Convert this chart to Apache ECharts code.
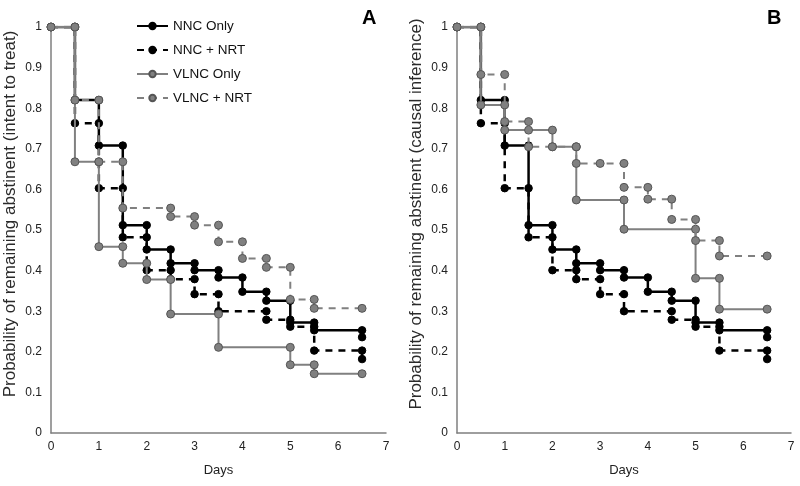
<!DOCTYPE html>
<html><head><meta charset="utf-8">
<script src="https://cdn.jsdelivr.net/npm/echarts@6/dist/echarts.min.js"></script>
<style>html,body{margin:0;padding:0;background:#fff}#c{width:800px;height:486px}</style>
</head><body><div id="c"></div>
<script>
// Tick settings
const xMin = 0, xMax = 7, xStep = 1;
const yMin = 0, yMax = 1, yStep = 0.1;
const seriesNames = ['NNC Only', 'NNC + NRT', 'VLNC Only', 'VLNC + NRT'];
const panelLabels = ['A', 'B'];
const yTitles = ['Probability of remaining abstinent (intent to treat)', 'Probability of remaining abstinent (causal inference)'];
const xTitle = 'Days';

// Step data: [time, level held from that time on]
const nncOnly = [[0,1],[0.5,0.82],[1,0.708],[1.5,0.512],[2,0.452],[2.5,0.418],[3,0.401],[3.5,0.383],[4,0.348],[4.5,0.326],[5,0.272],[5.5,0.253],[6.5,0.236]];
const nncNrt = [[0,1],[0.5,0.763],[1,0.603],[1.5,0.482],[2,0.401],[2.5,0.379],[3,0.342],[3.5,0.30],[4.5,0.279],[5,0.262],[5.5,0.203],[6.5,0.182]];
const vlncOnlyA = [[0,1],[0.5,0.668],[1,0.459],[1.5,0.418],[2,0.378],[2.5,0.293],[3.5,0.211],[5,0.168],[5.5,0.146],[6.5,0.146]];
const vlncNrtA = [[0,1],[0.5,0.82],[1,0.668],[1.5,0.554],[2.5,0.533],[3,0.512],[3.5,0.471],[4,0.43],[4.5,0.408],[5,0.329],[5.5,0.307],[6.5,0.307]];
const vlncOnlyB = [[0,1],[0.5,0.808],[1,0.746],[1.5,0.746],[2,0.705],[2.5,0.574],[3.5,0.502],[5,0.381],[5.5,0.305],[6.5,0.305]];
const vlncNrtB = [[0,1],[0.5,0.883],[1,0.767],[1.5,0.705],[2,0.705],[2.5,0.664],[3,0.664],[3.5,0.605],[4,0.576],[4.5,0.526],[5,0.474],[5.5,0.436],[6.5,0.436]];

function steps(d) {
  const pts = [];
  const push = p => { const l = pts[pts.length-1]; if (!l || l[0] !== p[0] || l[1] !== p[1]) pts.push(p); };
  for (let i = 0; i < d.length; i++) {
    push([d[i][0], d[i][1]]);
    if (i < d.length - 1) push([d[i+1][0], d[i][1]]);
  }
  return pts;
}

const FONT = 'Liberation Sans, Arial, sans-serif';
const BLACK = '#000000', GRAY = '#808080', GRAYB = '#555555';
const styles = [
  {color: BLACK, type: 'solid', w: 2.5, size: 7.5, border: BLACK},
  {color: BLACK, type: [7, 6], w: 2.5, size: 7.5, border: BLACK},
  {color: GRAY, type: 'solid', w: 2, size: 8, border: GRAYB},
  {color: GRAY, type: [7, 6], w: 2, size: 8, border: GRAYB}
];
const panelData = [[nncOnly, nncNrt, vlncOnlyA, vlncNrtA], [nncOnly, nncNrt, vlncOnlyB, vlncNrtB]];

const grids = [
  {left: 51, top: 27, width: 335, height: 406},
  {left: 457, top: 27, width: 334, height: 406}
];
const xAxes = grids.map((g, i) => ({
  gridIndex: i, type: 'value', min: xMin, max: xMax, interval: xStep,
  name: xTitle, nameLocation: 'middle', nameGap: 31,
  nameTextStyle: {fontFamily: FONT, fontSize: 13, color: '#222'},
  axisLine: {show: true, onZero: false, lineStyle: {color: '#7f7f7f', width: 1.5}},
  axisTick: {show: false}, splitLine: {show: false},
  axisLabel: {fontFamily: FONT, fontSize: 12, color: '#222', margin: 8}
}));
const yAxes = grids.map((g, i) => ({
  gridIndex: i, type: 'value', min: yMin, max: yMax, interval: yStep,
  name: yTitles[i], nameLocation: 'middle', nameGap: 32, nameRotate: 90,
  nameTextStyle: {fontFamily: FONT, fontSize: 17, color: '#2a2a2a', padding: [0, 0, 0, 32]},
  axisLine: {show: true, lineStyle: {color: '#7f7f7f', width: 1.5}},
  axisTick: {show: false}, splitLine: {show: false},
  axisLabel: {fontFamily: FONT, fontSize: 12, color: '#222', margin: 9, formatter: v => String(+v.toFixed(1))}
}));

const series = [];
panelData.forEach((arrs, p) => {
  arrs.forEach((d, k) => {
    const s = styles[k];
    series.push({
      name: seriesNames[k], type: 'line', xAxisIndex: p, yAxisIndex: p,
      data: steps(d), symbol: 'circle', symbolSize: s.size, showSymbol: true,
      lineStyle: {color: s.color, width: s.w, type: s.type},
      itemStyle: {color: s.color, borderColor: s.border, borderWidth: 1},
      z: 2 + k, silent: true, animation: false
    });
  });
});

const chart = echarts.init(document.getElementById('c'), null, {renderer: 'canvas'});
chart.setOption({
  backgroundColor: '#ffffff',
  animation: false,
  title: [
    {text: panelLabels[0], left: 357, top: 3, textStyle: {fontFamily: FONT, fontSize: 20, fontWeight: 'bold', color: '#000'}},
    {text: panelLabels[1], left: 762, top: 3, textStyle: {fontFamily: FONT, fontSize: 20, fontWeight: 'bold', color: '#000'}}
  ],
  legend: {
    data: seriesNames, orient: 'vertical', left: 131, top: 14,
    itemWidth: 31, itemHeight: 8, itemGap: 10,
    textStyle: {fontFamily: FONT, fontSize: 13.5, color: '#111'},
    selectedMode: false
  },
  grid: grids,
  xAxis: xAxes,
  yAxis: yAxes,
  series: series
});
</script>
</body></html>
